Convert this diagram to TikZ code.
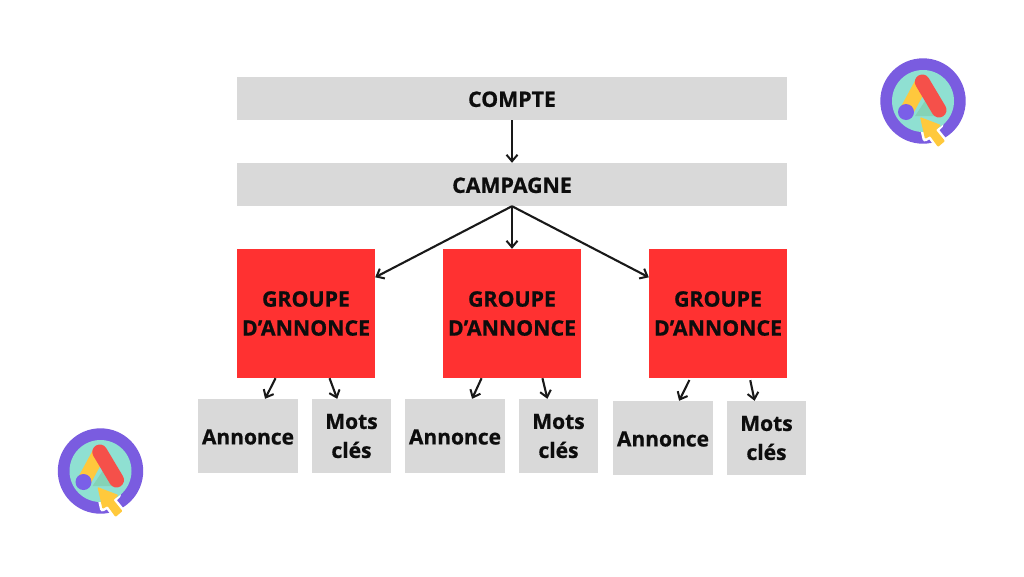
\documentclass[tikz,border=0pt]{standalone}
\usepackage{fontspec}
\setmainfont{Open Sans}[BoldFeatures={FakeBold=0.8}]
\usetikzlibrary{arrows.meta,calc}
\definecolor{boxgrey}{HTML}{D9D9D9}
\definecolor{boxred}{HTML}{FF3131}
\definecolor{ringpurple}{HTML}{7A5CE0}
\definecolor{discteal}{HTML}{8FE0D2}
\definecolor{agreen}{HTML}{84D3B6}
\definecolor{ayellow}{HTML}{FFC83D}
\definecolor{ared}{HTML}{F5504A}
\definecolor{adot}{HTML}{7A5FE8}
\definecolor{curyellow}{HTML}{FFC93C}
\tikzset{
  wide/.style={fill=boxgrey,minimum width=550pt,minimum height=43pt,inner sep=0pt,text=black!95,font=\fontsize{21.3}{24}\selectfont\bfseries,execute at begin node={\rule{0pt}{17pt}}},
  groupbox/.style={fill=boxred,minimum width=138pt,minimum height=129pt,inner sep=0pt,align=center,text=black!95,font=\fontsize{21.3}{29}\selectfont\bfseries,execute at begin node={\rule{0pt}{19pt}}},
  leafA/.style={fill=boxgrey,minimum width=100pt,minimum height=74pt,inner sep=0pt,align=center,text=black!95,font=\fontsize{21}{26}\selectfont\bfseries,execute at begin node={\rule{0pt}{17pt}}},
  leafB/.style={fill=boxgrey,minimum width=79pt,minimum height=74pt,inner sep=0pt,align=center,text=black!95,font=\fontsize{21}{29}\selectfont\bfseries,execute at begin node={\rule{0pt}{19pt}}},
  link/.style={draw=black!90,line width=2.1pt,-{Straight Barb[length=6.5pt,width=11pt,line width=2pt]}},
  adsicon/.pic={
    \fill[ringpurple] (0,0) circle (42.7);
    \draw[white,line width=5pt,line join=round] (-3,16) -- (18,24) -- (13,29) -- (22,40) -- (15,46) -- (7,35) -- (2,38) -- cycle;
    \fill[discteal] (0,0) circle (31);
    \fill[agreen] (-8,15) -- (14,15) -- (6,-6) -- cycle;
    \draw[ayellow,line width=14pt,line cap=round] (-0.7,-19) -- (-17,11);
    \draw[ared,line width=15pt,line cap=round] (-0.7,-19) -- (16,9);
    \fill[adot] (-17,11) circle (8);
    \fill[curyellow,rounded corners=1pt] (-3,16) -- (18,24) -- (13,29) -- (22,40) -- (15,46) -- (7,35) -- (2,38) -- cycle;
  }
}
\begin{document}
\begin{tikzpicture}[x=1pt,y=-1pt]
\useasboundingbox (0,0) rectangle (1024,576);
\fill[white] (0,0) rectangle (1024,576);

\node[wide] (compte) at (512,98.5) {COMPTE};
\node[wide] (campagne) at (512,184.5) {CAMPAGNE};

\node[groupbox] (g1) at (306,313.5) {GROUPE\\D’ANNONCE};
\node[groupbox] (g2) at (512,313.5) {GROUPE\\D’ANNONCE};
\node[groupbox] (g3) at (718,313.5) {GROUPE\\D’ANNONCE};

\node[leafA] (a1) at (248,436) {Annonce};
\node[leafB] (m1) at (351.5,436) {Mots\\clés};
\node[leafA] (a2) at (455,436) {Annonce};
\node[leafB] (m2) at (558.5,436) {Mots\\clés};
\node[leafA] (a3) at (663,438) {Annonce};
\node[leafB] (m3) at (766.5,438) {Mots\\clés};

\draw[link] (compte.south) -- (campagne.north);
\draw[link] (campagne.south) -- (g2.north);
\draw[link] (campagne.south) -- ($(g1.north east)!0.22!(g1.south east)$);
\draw[link] (campagne.south) -- ($(g3.north west)!0.22!(g3.south west)$);

\draw[link] ($(g1.south west)!0.28!(g1.south east)$) -- ($(a1.north west)!0.67!(a1.north east)$);
\draw[link] ($(g1.south west)!0.67!(g1.south east)$) -- ($(m1.north west)!0.32!(m1.north east)$);
\draw[link] ($(g2.south west)!0.28!(g2.south east)$) -- ($(a2.north west)!0.67!(a2.north east)$);
\draw[link] ($(g2.south west)!0.72!(g2.south east)$) -- ($(m2.north west)!0.36!(m2.north east)$);
\draw[link,shorten <=2pt] ($(g3.south west)!0.30!(g3.south east)$) -- ($(a3.north west)!0.66!(a3.north east)$);
\draw[link,shorten <=2pt] ($(g3.south west)!0.73!(g3.south east)$) -- ($(m3.north west)!0.35!(m3.north east)$);

\pic at (923,101) {adsicon};
\pic at (100.5,471) {adsicon};
\end{tikzpicture}
\end{document}
